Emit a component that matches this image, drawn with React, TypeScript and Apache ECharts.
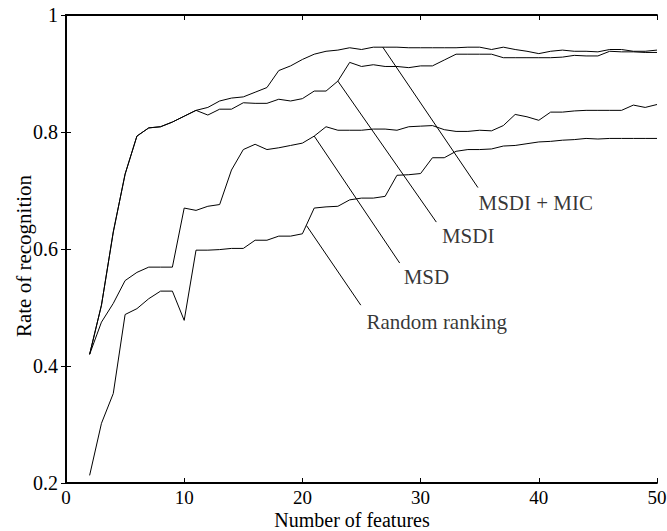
import React, { useEffect, useRef } from "react";
import * as echarts from "echarts";

const features = [2, 3, 4, 5, 6, 7, 8, 9, 10, 11, 12, 13, 14, 15, 16, 17, 18, 19, 20, 21, 22, 23, 24, 25, 26, 27, 28, 29, 30, 31, 32, 33, 34, 35, 36, 37, 38, 39, 40, 41, 42, 43, 44, 45, 46, 47, 48, 49, 50];

const msdiMic = [0.42, 0.504, 0.629, 0.728, 0.793, 0.807, 0.809, 0.817, 0.827, 0.837, 0.842, 0.853, 0.858, 0.86, 0.868, 0.876, 0.905, 0.913, 0.924, 0.933, 0.938, 0.94, 0.944, 0.941, 0.945, 0.945, 0.945, 0.944, 0.944, 0.944, 0.944, 0.944, 0.945, 0.945, 0.941, 0.945, 0.941, 0.938, 0.934, 0.938, 0.94, 0.938, 0.938, 0.937, 0.941, 0.941, 0.938, 0.938, 0.94];

const msdi = [0.42, 0.504, 0.629, 0.728, 0.793, 0.807, 0.809, 0.817, 0.827, 0.837, 0.829, 0.839, 0.839, 0.85, 0.849, 0.849, 0.856, 0.853, 0.857, 0.87, 0.87, 0.887, 0.919, 0.912, 0.915, 0.912, 0.912, 0.91, 0.913, 0.913, 0.923, 0.933, 0.933, 0.933, 0.933, 0.927, 0.927, 0.927, 0.927, 0.927, 0.928, 0.931, 0.93, 0.93, 0.938, 0.937, 0.937, 0.936, 0.936];

const msd = [0.42, 0.475, 0.507, 0.546, 0.56, 0.569, 0.569, 0.569, 0.67, 0.666, 0.673, 0.676, 0.735, 0.77, 0.779, 0.77, 0.773, 0.777, 0.781, 0.793, 0.809, 0.803, 0.803, 0.803, 0.805, 0.805, 0.803, 0.809, 0.81, 0.811, 0.804, 0.801, 0.801, 0.803, 0.802, 0.811, 0.83, 0.826, 0.82, 0.834, 0.834, 0.836, 0.837, 0.837, 0.837, 0.837, 0.846, 0.842, 0.847];

const randomRanking = [0.213, 0.302, 0.353, 0.488, 0.498, 0.515, 0.528, 0.528, 0.478, 0.598, 0.598, 0.599, 0.601, 0.601, 0.615, 0.615, 0.622, 0.622, 0.626, 0.67, 0.672, 0.673, 0.684, 0.687, 0.687, 0.69, 0.726, 0.727, 0.729, 0.756, 0.756, 0.767, 0.77, 0.77, 0.771, 0.776, 0.777, 0.78, 0.783, 0.784, 0.786, 0.787, 0.789, 0.788, 0.789, 0.789, 0.789, 0.789, 0.789];

const yTicks = ["0.2", "0.4", "0.6", "0.8", "1"];

const labelNames = ["MSDI + MIC", "MSDI", "MSD", "Random ranking"];
const leaderStart = [[26.8, 0.945], [23, 0.887], [21, 0.793], [20.35, 0.64]];
const leaderEnd = [[34.85, 0.705], [31.33, 0.646], [28.23, 0.576], [24.94, 0.504]];
const labelAnchor = [[34.9, 0.679], [31.8, 0.622], [28.57, 0.552], [25.42, 0.475]];

const FONT = "Liberation Serif, Times New Roman, serif";

export default function App() {
  const ref = useRef<HTMLDivElement>(null);
  useEffect(() => {
    if (!ref.current) return;
    const chart = echarts.init(ref.current, undefined, { renderer: "svg" });
    const pair = (ys: number[]) => features.map((x, i) => [x, ys[i]]);
    const lineStyle = { color: "#000", width: 1 };
    const axisLine = { show: true, lineStyle: { color: "#000", width: 1.8 } };
    const axisTick = { show: true, inside: true, length: 5, lineStyle: { color: "#000", width: 1 } };
    const seriesList: any[] = [
      { name: "MSDI + MIC", data: pair(msdiMic) },
      { name: "MSDI", data: pair(msdi) },
      { name: "MSD", data: pair(msd) },
      { name: "Random ranking", data: pair(randomRanking) },
    ].map((s) => ({
      type: "line",
      name: s.name,
      data: s.data,
      symbol: "none",
      lineStyle,
      silent: true,
    }));
    labelNames.forEach((n, i) => {
      seriesList.push({
        type: "line",
        name: n + " leader",
        data: [leaderStart[i], leaderEnd[i]],
        symbol: "none",
        lineStyle,
        silent: true,
      });
    });
    seriesList.push({
      type: "scatter",
      name: "labels",
      symbolSize: 0,
      silent: true,
      data: labelAnchor.map((p, i) => ({ value: p, name: labelNames[i] })),
      label: {
        show: true,
        position: "right",
        distance: 0,
        formatter: (p: any) => p.name,
        color: "#000",
        fontSize: 21,
        fontFamily: FONT,
      },
    });
    chart.setOption({
      animation: false,
      backgroundColor: "#fff",
      textStyle: { fontFamily: FONT, color: "#000" },
      grid: { left: 66, right: 10, top: 15, bottom: 48, outerBoundsMode: "none", containLabel: false },
      xAxis: [
        {
          type: "value",
          min: 0,
          max: 50,
          interval: 10,
          position: "bottom",
          axisLine,
          axisTick,
          splitLine: { show: false },
          axisLabel: { color: "#000", fontSize: 19, fontFamily: FONT, margin: 5 },
          name: "Number of features",
          nameLocation: "middle",
          nameGap: 27,
          nameMoveOverlap: false,
          nameTextStyle: { color: "#000", fontSize: 20, fontFamily: FONT, padding: [0, 19, 0, 0] },
        },
        {
          type: "value",
          min: 0,
          max: 50,
          interval: 10,
          position: "top",
          axisLine,
          axisTick,
          splitLine: { show: false },
          axisLabel: { show: false },
        },
      ],
      yAxis: [
        {
          type: "value",
          min: 0.2,
          max: 1,
          interval: 0.2,
          position: "left",
          axisLine,
          axisTick,
          splitLine: { show: false },
          axisLabel: {
            color: "#000",
            fontSize: 20,
            fontFamily: FONT,
            margin: 8,
            formatter: (v: number) => yTicks[Math.round((v - 0.2) / 0.2)] ?? String(v),
          },
          name: "Rate of recognition",
          nameLocation: "middle",
          nameGap: 32,
          nameMoveOverlap: false,
          nameTextStyle: { color: "#000", fontSize: 21, fontFamily: FONT, padding: [0, 14, 0, 0] },
        },
        {
          type: "value",
          min: 0.2,
          max: 1,
          interval: 0.2,
          position: "right",
          axisLine,
          axisTick,
          splitLine: { show: false },
          axisLabel: { show: false },
        },
      ],
      series: seriesList,
    });
    return () => chart.dispose();
  }, []);
  return (
    <div
      ref={ref}
      style={{ position: "fixed", left: 0, top: 0, width: 667, height: 531 }}
    />
  );
}
